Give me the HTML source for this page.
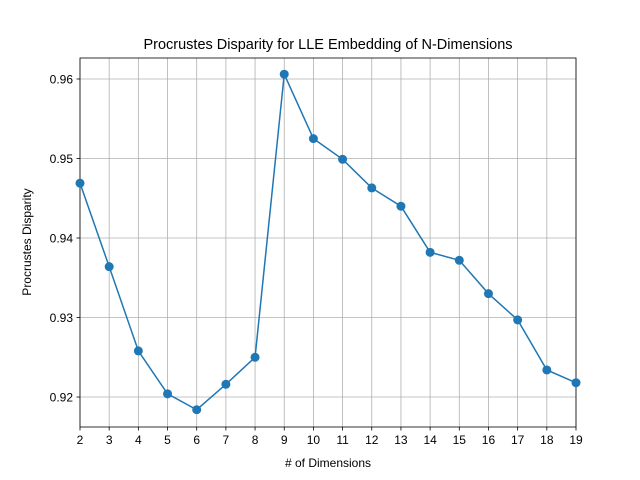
<!DOCTYPE html>
<html><head><meta charset="utf-8"><style>
body{margin:0;background:#fff;}
svg{display:block;font-family:"Liberation Sans","DejaVu Sans",sans-serif;}
</style></head><body>
<svg id="chart" width="640" height="480" viewBox="0 0 640 480">
<rect width="640" height="480" fill="#fff"/>
<text x="328" y="49" text-anchor="middle" font-size="14.5">Procrustes Disparity for LLE Embedding of N-Dimensions</text>
<g id="grid"></g>
<g id="axes"></g>
<g id="series"></g>
<text x="328" y="467" text-anchor="middle" font-size="12"># of Dimensions</text>
<text transform="translate(31,242) rotate(-90)" text-anchor="middle" font-size="12">Procrustes Disparity</text>
</svg>
<script>
const dims = [2,3,4,5,6,7,8,9,10,11,12,13,14,15,16,17,18,19];
const disparity = [0.9469,0.9364,0.9258,0.9204,0.9184,0.9216,0.9250,0.9606,0.9525,0.9499,0.9463,0.9440,0.9382,0.9372,0.9330,0.9297,0.9234,0.9218];
const yTicks = [0.92,0.93,0.94,0.95,0.96];
const yTickLabels = ["0.92","0.93","0.94","0.95","0.96"];
const L=80,R=576,T=58,B=427, xMin=2,xMax=19, yMin=0.91623,yMax=0.96264;
const sx=v=>L+(v-xMin)/(xMax-xMin)*(R-L);
const sy=v=>B-(v-yMin)/(yMax-yMin)*(B-T);
const NS="http://www.w3.org/2000/svg";
function mk(tag,attrs,parent){const e=document.createElementNS(NS,tag);for(const k in attrs)e.setAttribute(k,attrs[k]);parent.appendChild(e);return e;}
const grid=document.getElementById('grid'),axes=document.getElementById('axes'),series=document.getElementById('series');
dims.forEach(d=>{
  const x=sx(d);
  const g=mk('line',{x1:x,x2:x,y1:T,y2:B,stroke:'#b0b0b0','stroke-width':0.8},grid);
  
  
  const t=mk('line',{x1:x,x2:x,y1:B,y2:B+3.5,stroke:'#000','stroke-width':0.8},axes);
  
  
  const l=mk('text',{x:x,y:B+17,'text-anchor':'middle','font-size':12},axes);
  l.textContent=d;
  
  
});
yTicks.forEach((v,i)=>{
  const y=sy(v);
  const g=mk('line',{x1:L,x2:R,y1:y,y2:y,stroke:'#b0b0b0','stroke-width':0.8},grid);
  
  
  const t=mk('line',{x1:L-3.5,x2:L,y1:y,y2:y,stroke:'#000','stroke-width':0.8},axes);
  
  
  const l=mk('text',{x:L-7,y:y+4.5,'text-anchor':'end','font-size':12},axes);
  l.textContent=yTickLabels[i];
  
  
});
const frame=mk('rect',{x:L,y:T,width:R-L,height:B-T,fill:'none',stroke:'#000','stroke-width':0.8},axes);


const pts=dims.map((d,i)=>sx(d)+','+sy(disparity[i])).join(' ');
const line=mk('polyline',{points:pts,fill:'none',stroke:'#1f77b4','stroke-width':1.5},series);


dims.forEach((d,i)=>{
  const c=mk('circle',{cx:sx(d),cy:sy(disparity[i]),r:4.5,fill:'#1f77b4'},series);
  
  
});
</script>
</body></html>
